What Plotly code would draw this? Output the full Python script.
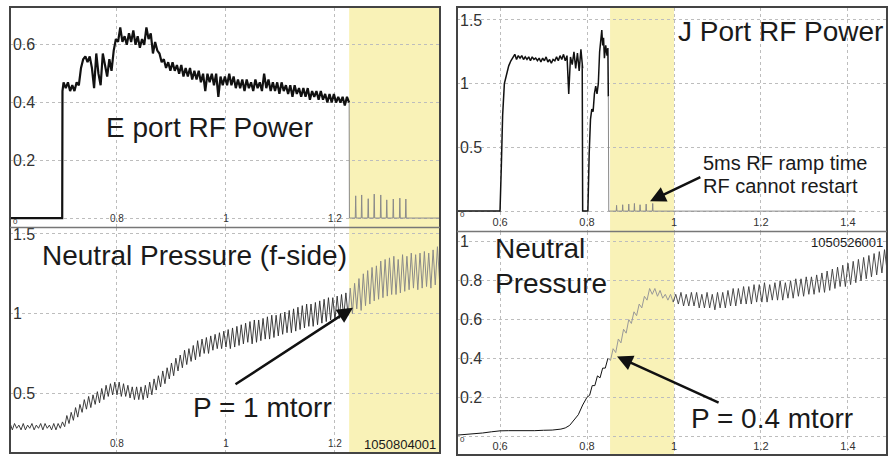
import numpy as np
import plotly.graph_objects as go

# ======================= DATA =======================
# ---- Shot 1050804001 : E port RF power vs time [s] ----
e_rf_on_time = [0.6037, 0.6995, 0.7000]
e_rf_on_value = [0.0, 0.0, 0.44]
e_rf_t0, e_rf_dt = 0.702, 0.004
e_rf_value = [
    0.47, 0.45, 0.47, 0.44, 0.46, 0.44, 0.47, 0.46, 0.52, 0.55,
    0.56, 0.54, 0.56, 0.52, 0.45, 0.57, 0.50, 0.46, 0.57, 0.53,
    0.49, 0.55, 0.51, 0.58, 0.62, 0.61, 0.66, 0.61, 0.63, 0.60,
    0.64, 0.61, 0.65, 0.60, 0.63, 0.59, 0.62, 0.60, 0.66, 0.62,
    0.64, 0.57, 0.61, 0.58, 0.57, 0.54, 0.55, 0.52, 0.54, 0.51,
    0.54, 0.51, 0.53, 0.50, 0.53, 0.49, 0.52, 0.49, 0.52, 0.48,
    0.51, 0.48, 0.51, 0.47, 0.50, 0.44, 0.50, 0.47, 0.50, 0.46,
    0.50, 0.42, 0.49, 0.46, 0.49, 0.46, 0.50, 0.46, 0.49, 0.45,
    0.48, 0.45, 0.48, 0.44, 0.48, 0.45, 0.47, 0.44, 0.48, 0.45,
    0.47, 0.44, 0.50, 0.45, 0.48, 0.44, 0.47, 0.44, 0.47, 0.43,
    0.47, 0.44, 0.46, 0.43, 0.46, 0.42, 0.46, 0.43, 0.45, 0.42,
    0.45, 0.42, 0.45, 0.41, 0.44, 0.42, 0.44, 0.41, 0.44, 0.41,
    0.43, 0.40, 0.43, 0.40, 0.43, 0.40, 0.42, 0.40, 0.42, 0.39,
    0.42, 0.40]
e_rf_off_time = [1.2265, 1.3927]          # RF trips off, baseline to end
e_rf_spike_time = [1.238, 1.249, 1.261, 1.272, 1.284, 1.295, 1.307, 1.319, 1.330]
e_rf_spike_value = [0.077, 0.080, 0.067, 0.083, 0.080, 0.063, 0.066, 0.069, 0.066]

# ---- Shot 1050804001 : neutral pressure (f-side) [mtorr] ----
pf_t0, pf_dt = 0.604, 0.004
pf_value = [
    0.31, 0.27, 0.31, 0.28, 0.30, 0.27, 0.31, 0.27, 0.30, 0.28,
    0.31, 0.27, 0.30, 0.28, 0.31, 0.27, 0.31, 0.28, 0.30, 0.27,
    0.31, 0.27, 0.31, 0.28, 0.32, 0.29, 0.36, 0.31, 0.38, 0.33,
    0.41, 0.35, 0.43, 0.38, 0.46, 0.40, 0.48, 0.41, 0.49, 0.43,
    0.51, 0.44, 0.53, 0.46, 0.55, 0.48, 0.56, 0.49, 0.57, 0.49,
    0.57, 0.48, 0.56, 0.48, 0.55, 0.47, 0.54, 0.46, 0.54, 0.46,
    0.54, 0.46, 0.55, 0.47, 0.57, 0.49, 0.59, 0.52, 0.61, 0.54,
    0.64, 0.56, 0.66, 0.59, 0.69, 0.61, 0.72, 0.64, 0.74, 0.66,
    0.77, 0.68, 0.78, 0.70, 0.80, 0.71, 0.83, 0.73, 0.84, 0.75,
    0.85, 0.75, 0.86, 0.77, 0.87, 0.78, 0.88, 0.78, 0.89, 0.79,
    0.90, 0.78, 0.91, 0.79, 0.92, 0.80, 0.93, 0.81, 0.94, 0.82,
    0.95, 0.81, 0.96, 0.82, 0.96, 0.83, 0.97, 0.84, 0.98, 0.84,
    0.99, 0.85, 0.99, 0.86, 1.00, 0.87, 1.01, 0.88, 1.02, 0.88,
    1.03, 0.89, 1.04, 0.90, 1.05, 0.91, 1.06, 0.92, 1.06, 0.92,
    1.07, 0.93, 1.08, 0.94, 1.09, 0.95, 1.10, 0.96, 1.10, 0.96,
    1.11, 0.97, 1.12, 0.98, 1.13, 0.99, 1.16, 1.00, 1.19, 1.03,
    1.22, 1.02, 1.25, 1.05, 1.27, 1.06, 1.29, 1.08, 1.30, 1.09,
    1.33, 1.10, 1.34, 1.11, 1.35, 1.12, 1.36, 1.12, 1.34, 1.13,
    1.37, 1.14, 1.36, 1.15, 1.38, 1.16, 1.37, 1.15, 1.38, 1.16,
    1.39, 1.17, 1.38, 1.16, 1.40, 1.18, 1.42, 1.20]

# ---- Shot 1050526001 : J port RF power ----
j_rise_time = [0.5011, 0.600, 0.603, 0.606, 0.610, 0.615, 0.620, 0.625, 0.630]
j_rise_value = [0.0, 0.0, 0.35, 0.75, 1.00, 1.08, 1.14, 1.18, 1.21]
j_flat_t0, j_flat_dt = 0.634, 0.004
j_flat_value = [
    1.23, 1.19, 1.22, 1.20, 1.22, 1.19, 1.21, 1.19, 1.21, 1.18,
    1.21, 1.19, 1.20, 1.18, 1.20, 1.17, 1.20, 1.18, 1.21, 1.17,
    1.19, 1.16, 1.19, 1.18, 1.21, 1.18, 1.22, 1.19, 1.23, 1.18,
    1.22, 0.92, 1.21, 1.15, 1.25, 1.12, 1.24, 1.10, 1.27, 1.12]
j_second_time = [0.789, 0.790, 0.802, 0.805, 0.808, 0.811, 0.814, 0.817, 0.820,
                 0.823, 0.826, 0.829, 0.832, 0.834, 0.836, 0.838, 0.840, 0.843,
                 0.846, 0.848, 0.849]
j_second_value = [1.15, 0.0, 0.0, 0.45, 0.72, 0.80, 0.78, 0.92, 0.98,
                  0.92, 1.00, 1.25, 1.35, 1.42, 1.30, 1.36, 1.20, 1.30,
                  1.22, 1.28, 0.90]
j_off_time = [0.850, 1.416]
j_spike_time = [0.868, 0.882, 0.896, 0.909, 0.922, 0.936, 0.951]
j_spike_value = [0.045, 0.050, 0.055, 0.060, 0.050, 0.055, 0.060]

# ---- Shot 1050526001 : neutral pressure ----
pj_slow_time = [0.5011, 0.52, 0.54, 0.56, 0.58, 0.60, 0.62, 0.64, 0.66, 0.68,
                0.70, 0.72, 0.74, 0.75, 0.76, 0.77, 0.78, 0.79]
pj_slow_value = [0.005, 0.008, 0.012, 0.016, 0.022, 0.027, 0.028, 0.027, 0.029, 0.028,
                 0.030, 0.031, 0.036, 0.042, 0.055, 0.080, 0.110, 0.160]
pj_t0, pj_dt = 0.800, 0.006
pj_value = [
    0.20, 0.21, 0.26, 0.26, 0.31, 0.30, 0.35, 0.35, 0.40, 0.39,
    0.45, 0.43, 0.50, 0.48, 0.55, 0.53, 0.60, 0.58, 0.64, 0.62,
    0.68, 0.66, 0.72, 0.70, 0.76, 0.73, 0.76, 0.72, 0.75, 0.71,
    0.73, 0.70, 0.73, 0.69, 0.73, 0.68, 0.74, 0.67, 0.73, 0.67,
    0.74, 0.67, 0.74, 0.66, 0.73, 0.66, 0.74, 0.66, 0.73, 0.65,
    0.74, 0.66, 0.74, 0.66, 0.75, 0.67, 0.76, 0.67, 0.76, 0.68,
    0.77, 0.68, 0.77, 0.68, 0.78, 0.69, 0.78, 0.69, 0.79, 0.69,
    0.78, 0.70, 0.79, 0.70, 0.80, 0.70, 0.79, 0.71, 0.80, 0.71,
    0.81, 0.72, 0.81, 0.72, 0.82, 0.73, 0.82, 0.73, 0.83, 0.74,
    0.84, 0.74, 0.85, 0.75, 0.86, 0.76, 0.87, 0.77, 0.88, 0.77,
    0.89, 0.78, 0.90, 0.79, 0.91, 0.80, 0.92, 0.81, 0.93, 0.82,
    0.94, 0.83, 0.95, 0.84, 0.96, 0.85]

# shaded time windows
left_shade = [1.226, 1.3927]
right_shade = [0.853, 1.000]

# tick labels
left_top_yticks = [0, 0.2, 0.4, 0.6]
left_bot_yticks = [0.5, 1, 1.5]
right_top_yticks = [0, 0.5, 1, 1.5]
right_bot_yticks = [0, 0.2, 0.4, 0.6, 0.8, 1]
left_xticks = [0.8, 1, 1.2]
right_xticks = [0.6, 0.8, 1, 1.2, 1.4]

# ======================= FIGURE =======================
W, H = 888, 456
FONT = "Liberation Sans, Arial, Helvetica, sans-serif"
BLACK = "#111111"
GRAY = "#8a8a8a"


def px(x):
    return x / W


def py(y):
    return 1 - y / H


def spikes(base_t, st, sv, w=0.0008):
    xs, ys = [base_t[0]], [0.0]
    for t, v in zip(st, sv):
        xs += [t - w, t, t + w]
        ys += [0.0, v, 0.0]
    xs.append(base_t[1])
    ys.append(0.0)
    return xs, ys


fig = go.Figure()

# --- E port RF power ---
e_t = list(e_rf_on_time) + list(e_rf_t0 + e_rf_dt * np.arange(len(e_rf_value)))
e_v = list(e_rf_on_value) + list(e_rf_value)
fig.add_trace(go.Scatter(x=e_t, y=e_v, mode="lines", line=dict(color=BLACK, width=2.2),
                         xaxis="x", yaxis="y"))
sx, sy = spikes(e_rf_off_time, e_rf_spike_time, e_rf_spike_value)
fig.add_trace(go.Scatter(x=[e_t[-1]] + sx, y=[e_v[-1]] + sy, mode="lines",
                         line=dict(color=GRAY, width=1), xaxis="x", yaxis="y"))

# --- Neutral pressure f-side ---
pf_t = pf_t0 + pf_dt * np.arange(len(pf_value))
pf_v = np.array(pf_value)
ia = int(np.searchsorted(pf_t, left_shade[0]))
fig.add_trace(go.Scatter(x=pf_t[:ia], y=pf_v[:ia], mode="lines",
                         line=dict(color="#2a2a2a", width=0.9), xaxis="x2", yaxis="y2"))
fig.add_trace(go.Scatter(x=pf_t[ia - 1:], y=pf_v[ia - 1:], mode="lines",
                         line=dict(color=GRAY, width=1), xaxis="x2", yaxis="y2"))

# --- J port RF power ---
j_t = list(j_rise_time) + list(j_flat_t0 + j_flat_dt * np.arange(len(j_flat_value))) + list(j_second_time)
j_v = list(j_rise_value) + list(j_flat_value) + list(j_second_value)
fig.add_trace(go.Scatter(x=j_t, y=j_v, mode="lines", line=dict(color=BLACK, width=1.5),
                         xaxis="x3", yaxis="y3"))
sx, sy = spikes(j_off_time, j_spike_time, j_spike_value)
fig.add_trace(go.Scatter(x=[j_t[-1]] + sx, y=[j_v[-1]] + sy, mode="lines",
                         line=dict(color=GRAY, width=1), xaxis="x3", yaxis="y3"))

# --- Neutral pressure J side ---
pj_t = pj_t0 + pj_dt * np.arange(len(pj_value))
pj_v = np.array(pj_value)
ib = int(np.searchsorted(pj_t, right_shade[0]))
ic = int(np.searchsorted(pj_t, right_shade[1]))
fig.add_trace(go.Scatter(x=list(pj_slow_time) + list(pj_t[:ib]),
                         y=list(pj_slow_value) + list(pj_v[:ib]), mode="lines",
                         line=dict(color=BLACK, width=1), xaxis="x4", yaxis="y4"))
fig.add_trace(go.Scatter(x=pj_t[ib - 1:ic], y=pj_v[ib - 1:ic], mode="lines",
                         line=dict(color="#999999", width=1), xaxis="x4", yaxis="y4"))
fig.add_trace(go.Scatter(x=pj_t[ic - 1:], y=pj_v[ic - 1:], mode="lines",
                         line=dict(color="#3a3a3a", width=0.9), xaxis="x4", yaxis="y4"))


def fmt(v):
    if v == 0:
        return "<span style='font-size:8px'>0</span>"
    return ("%g" % v)


def yax(dom, rng, ticks, size, anchor):
    return dict(domain=dom, range=rng, tickvals=ticks, ticktext=[fmt(v) for v in ticks],
                ticklabelposition="inside", ticklabeloverflow="allow", ticks="", anchor=anchor,
                tickfont=dict(family=FONT, size=size, color="#333333"),
                showgrid=True, gridcolor="#bdbdbd", griddash="dot", gridwidth=1,
                zeroline=False, showline=False, fixedrange=True)


def xax(dom, rng, ticks, size, anchor):
    return dict(domain=dom, range=rng, tickvals=ticks, ticktext=["%g" % v for v in ticks],
                ticklabelposition="inside", ticklabeloverflow="allow", ticks="",
                tickfont=dict(family=FONT, size=size, color="#333333"),
                showgrid=True, gridcolor="#bdbdbd", griddash="dot", gridwidth=1,
                zeroline=False, showline=False, anchor=anchor, fixedrange=True)


LX = [px(10), px(440)]
RX = [px(457), px(887)]
fig.update_layout(
    width=W, height=H, margin=dict(l=0, r=0, t=0, b=0),
    paper_bgcolor="white", plot_bgcolor="white", showlegend=False,
    xaxis=xax(LX, [0.6037, 1.3927], left_xticks, 10, "y"),
    yaxis=yax([py(226), py(6)], [-0.031, 0.7276], left_top_yticks, 16, "x"),
    xaxis2=xax(LX, [0.6037, 1.3927], left_xticks, 10, "y2"),
    yaxis2=yax([py(452), py(227)], [0.131, 1.5375], left_bot_yticks, 16, "x2"),
    xaxis3=xax(RX, [0.5011, 1.4897], right_xticks, 11, "y3"),
    yaxis3=yax([py(230), py(6)], [-0.156, 1.594], right_top_yticks, 16, "x3"),
    xaxis4=xax(RX, [0.5011, 1.4897], right_xticks, 11, "y4"),
    yaxis4=yax([py(455), py(231)], [-0.0974, 1.051], right_bot_yticks, 16, "x4"),
)

shapes = []
SHADE = "#F9F2B7"
for xr, yr, win in [("x", "y", left_shade), ("x2", "y2", left_shade),
                    ("x3", "y3", right_shade), ("x4", "y4", right_shade)]:
    shapes.append(dict(type="rect", xref=xr, yref=yr + " domain", x0=win[0], x1=win[1],
                       y0=0, y1=1, fillcolor=SHADE, line=dict(width=0), layer="below"))
# panel frames
for (x0, y0, x1, y1) in [(10, 5, 440, 453), (457, 5, 887, 455)]:
    shapes.append(dict(type="rect", xref="paper", yref="paper", x0=px(x0), x1=px(x1),
                       y0=py(y1), y1=py(y0), line=dict(color="#444444", width=2),
                       fillcolor="rgba(0,0,0,0)", layer="above"))
shapes.append(dict(type="line", xref="paper", yref="paper", x0=px(10), x1=px(440),
                   y0=py(226.5), y1=py(226.5), line=dict(color="#777777", width=1.5)))
shapes.append(dict(type="line", xref="paper", yref="paper", x0=px(457), x1=px(887),
                   y0=py(230.5), y1=py(230.5), line=dict(color="#777777", width=1.5)))
fig.update_layout(shapes=shapes)

TXT = "#1a1a1a"


def label(text, x, y, size, xanchor="center"):
    return dict(text=text, xref="paper", yref="paper", x=px(x), y=py(y), xanchor=xanchor,
                yanchor="middle", showarrow=False, borderpad=0,
                font=dict(family=FONT, size=size, color=TXT))


def arrow(xr, yr, head, tail):
    return dict(text="", xref=xr, yref=yr, axref=xr, ayref=yr, x=head[0], y=head[1],
                ax=tail[0], ay=tail[1], showarrow=True, arrowhead=2, arrowsize=1.25,
                arrowwidth=2.5, arrowcolor=BLACK, standoff=0, startstandoff=0)


fig.update_layout(annotations=[
    label("E port RF Power", 209, 126, 28),
    label("Neutral Pressure (f-side)", 41, 255, 28, "left"),
    label("P = 1 mtorr", 262, 407, 28),
    label("1050804001", 437, 444, 13, "right"),
    label("J Port RF Power", 884, 30, 28, "right"),
    label("5ms RF ramp time", 702, 162, 20, "left"),
    label("RF cannot restart", 702, 185, 20, "left"),
    label("Neutral", 494, 248, 28, "left"),
    label("Pressure", 494, 283, 28, "left"),
    label("P = 0.4 mtorr", 772, 418, 28),
    label("1050526001", 884, 242, 13, "right"),
    arrow("x2", "y2", (1.233, 1.0375), (1.0147, 0.55)),
    arrow("x3", "y3", (0.945, 0.078), (1.064, 0.273)),
    arrow("x4", "y4", (0.869, 0.41), (1.106, 0.169)),
])

fig.write_html("out.html")
